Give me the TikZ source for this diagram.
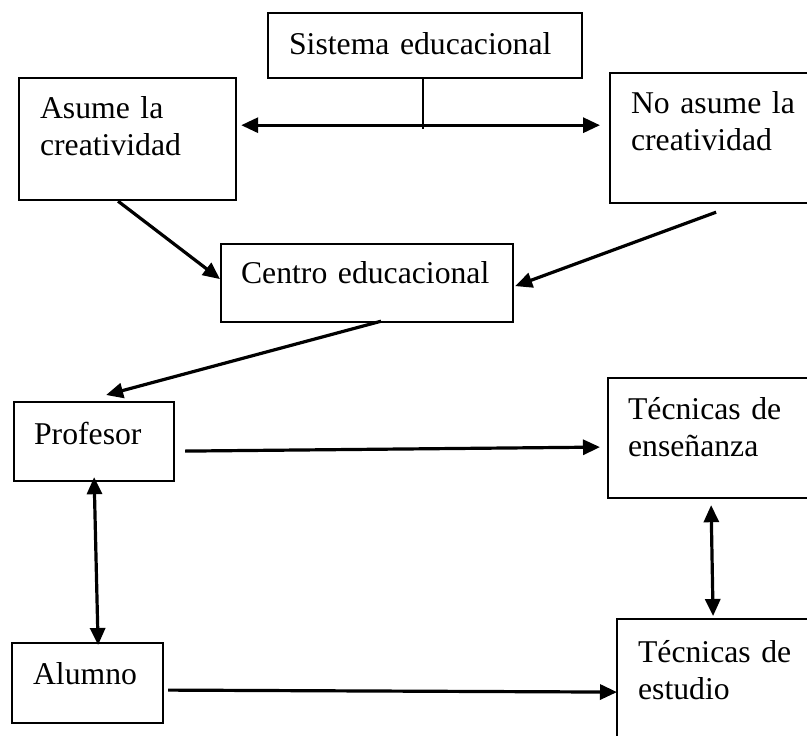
\documentclass[tikz,border=0pt]{standalone}
\usepackage{fontspec}
\setmainfont{Liberation Serif}
\usepackage{tikz}
\usetikzlibrary{arrows.meta, calc, positioning}

\begin{document}
\begin{tikzpicture}[x=1pt,y=-1pt,
		caja/.style={draw, line width=2.2pt, anchor=north west, inner ysep=0pt, align=left, font=\fontsize{31.7}{37}\selectfont},
		flecha/.style={line width=3.2pt},
		>={Triangle[length=17pt,width=15pt]}]
								\useasboundingbox (0,0) rectangle (807,736);
								\clip (0,0) rectangle (807,736);

								\node[caja, inner xsep=21pt, text width=272pt, text height=41pt, text depth=24pt] (sistema) at (267,12) {Sistema educacional};
								\node[caja, inner xsep=21pt, text width=175pt, text height=40pt, text depth=82pt] (asume) at (18,77) {Asume la\\creatividad};
								\node[caja, inner xsep=21pt, text width=178pt, text height=40pt, text depth=90pt] (noasume) at (609,72) {No asume la\\creatividad};
								\node[caja, inner xsep=20pt, text width=252pt, text height=39pt, text depth=39pt] (centro) at (220,243) {Centro educacional};
								\node[caja, inner xsep=20pt, text width=120pt, text height=42pt, text depth=37pt] (profesor) at (13,401) {Profesor};
								\node[caja, inner xsep=20pt, text width=180pt, text height=41pt, text depth=79pt] (tecens) at (607,377) {Técnicas de\\enseñanza};
								\node[caja, inner xsep=21pt, text width=109pt, text height=41pt, text depth=39pt] (alumno) at (11,642) {Alumno};
								\node[caja, inner xsep=21pt, text width=178pt, text height=43pt, text depth=100pt] (tecest) at (616,618) {Técnicas de\\estudio};

								\coordinate (eje) at ($(sistema.south)+(-2,46)$);
								\draw[line width=2pt] (sistema.south -| eje) -- ($(eje)+(0,4)$);
								\draw[flecha,<->] ($(asume.east |- eje)+(4,0)$) -- ($(noasume.west |- eje)+(-9,0)$);

								\draw[flecha,->] ($(asume.south)+(-9.5,0)$) -- ($(centro.west)+(0,-4)$);
								\draw[flecha,->] ($(noasume.south)+(-4,8)$) -- ($(centro.east)+(1,3)$);
								\draw[flecha,->] ($(centro.south)+(14,-2)$) -- ($(profesor.north)+(12,-6)$);

								\draw[flecha,->] ($(profesor.east)+(10,9.5)$) -- ($(tecens.west)+(-7,9)$);
								\draw[flecha,<->] ($(profesor.south)+(0,-5)$) -- ($(alumno.north)+(10.5,3)$);
								\draw[flecha,<->] ($(tecens.south)+(-7,6)$) -- ($(tecest.north)+(-14,-2)$);
								\draw[flecha,->] ($(alumno.east)+(4,7)$) -- ($(tecest.west)+(1,1.5)$);
							\end{tikzpicture}
\end{document}
